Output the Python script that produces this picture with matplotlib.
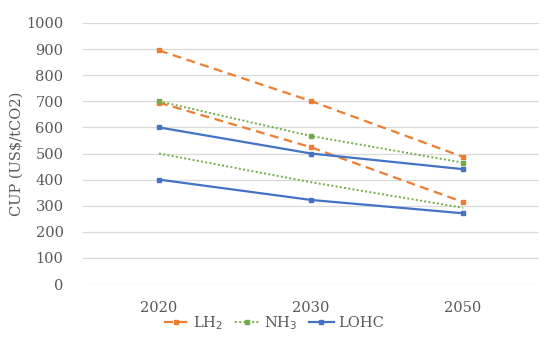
import matplotlib.pyplot as plt

years = ['2020', '2030', '2050']
lh2_high = [895, 701, 487]
lh2_low = [695, 524, 314]
nh3_high = [700, 567, 465]
nh3_low = [500, 390, 292]
lohc_high = [600, 500, 440]
lohc_low = [400, 322, 271]

orange = '#ED7D31'
green = '#70AD47'
blue = '#4472C4'
grey = '#595959'

plt.rcParams['font.family'] = ['DejaVu Serif']

fig = plt.figure(figsize=(5.5, 3.47), dpi=100)
ax = fig.add_axes([83 / 550, 1 - 284 / 347, 456 / 550, 261 / 347])

x = range(len(years))
ax.plot(x, lh2_high, color=orange, lw=1.6, ls=(0, (4, 2.5)), marker='s', ms=3.5, label='LH$_2$')
ax.plot(x, lh2_low, color=orange, lw=1.6, ls=(0, (4, 2.5)), marker='s', ms=3.5)
ax.plot(x, nh3_high, color=green, lw=1.4, ls=(0, (1, 1.2)), marker='s', ms=3.5, label='NH$_3$')
ax.plot(x, nh3_low, color=green, lw=1.4, ls=(0, (1, 1.2)))
ax.plot(x, lohc_high, color=blue, lw=1.6, marker='s', ms=3.5, label='LOHC')
ax.plot(x, lohc_low, color=blue, lw=1.6, marker='s', ms=3.5)

ax.set_xlim(-0.5, 2.5)
ax.set_ylim(0, 1000)
ax.set_yticks(range(0, 1001, 100))
ax.set_xticks(list(x))
ax.set_xticklabels(years)
ax.grid(axis='y', color='#D9D9D9', lw=0.9)
ax.set_axisbelow(True)
for s in ax.spines.values():
    s.set_visible(False)
ax.tick_params(length=0, colors=grey, labelsize=10.5)
ax.tick_params(axis='y', pad=14)
ax.tick_params(axis='x', pad=12)
ax.set_ylabel('CUP (US$/tCO2)', color=grey, fontsize=10.5, labelpad=2)

fig.legend(loc='center', bbox_to_anchor=(274 / 550, 1 - 323 / 347), ncol=3, frameon=False,
           fontsize=10.5, labelcolor=grey, handlelength=1.7, columnspacing=0.8, handletextpad=0.3)

fig.savefig('out.png', dpi=100)
